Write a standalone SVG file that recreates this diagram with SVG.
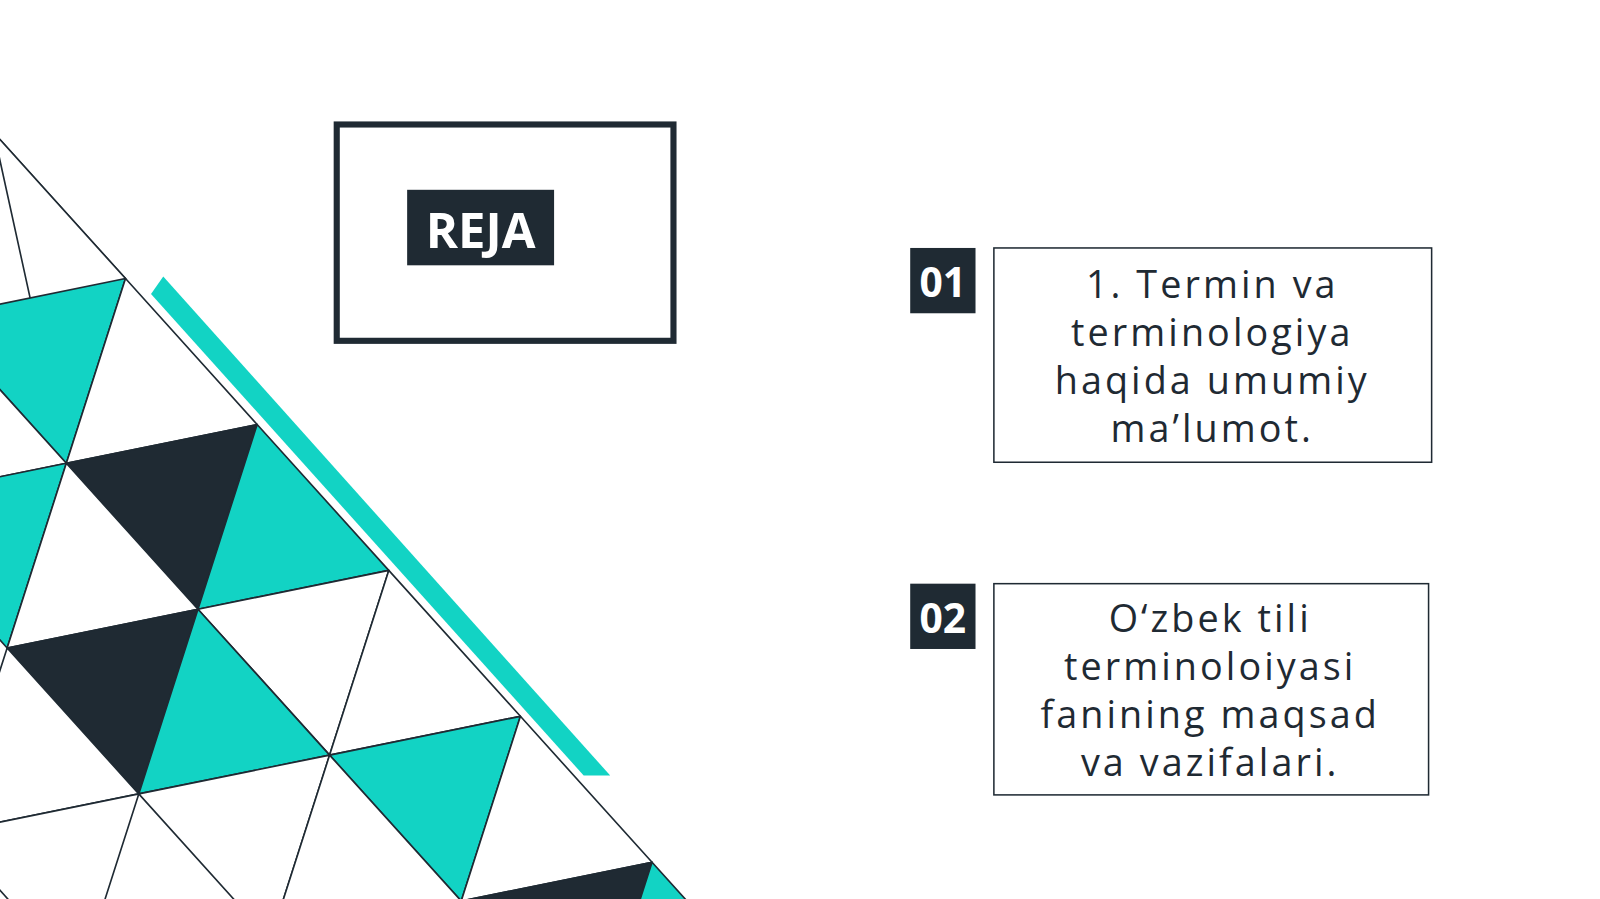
<svg xmlns="http://www.w3.org/2000/svg" width="1600" height="899" viewBox="0 0 1600 899">
<style>
.t{fill:#12d3c4}.d{fill:#1f2a33}.w{fill:#fff}
.tri polygon{stroke:#1f2a33;stroke-width:1.6;stroke-linejoin:round}
.num{font-family:'Open Sans',sans-serif;font-weight:bold;font-size:40px;fill:#fff;text-anchor:middle}
.txt{font-family:'Open Sans',sans-serif;font-size:37px;fill:#1f2a33;text-anchor:middle;letter-spacing:3px}
</style>
<rect width="1600" height="899" fill="#fff"/>
<g transform="scale(1.02041)">
<g id="pattern" class="tri">
<line x1="0" y1="137" x2="123" y2="273" stroke="#1f2a33" stroke-width="1.6"/>
<!-- lattice A=(123,273) u=(129,143) v=(-58,181) -->
<polygon class="w" points="-6,130 123,273 65,454"/>
<polygon class="t" points="123,273 -64,311 65,454"/>
<polygon class="w" points="-64,311 65,454 -122,492"/>
<polygon class="t" points="65,454 -122,492 7,635"/>
<polygon class="w" points="123,273 252,416 65,454"/>
<polygon class="d" points="252,416 65,454 194,597"/>
<polygon class="w" points="65,454 194,597 7,635"/>
<polygon class="d" points="194,597 7,635 136,778"/>
<polygon class="w" points="7,635 136,778 -51,816"/>
<polygon class="w" points="136,778 -51,816 78,959"/>
<polygon class="t" points="252,416 381,559 194,597"/>
<polygon class="w" points="381,559 194,597 323,740"/>
<polygon class="t" points="194,597 323,740 136,778"/>
<polygon class="w" points="323,740 136,778 265,921"/>
<polygon class="w" points="381,559 510,702 323,740"/>
<polygon class="t" points="510,702 323,740 452,883"/>
<polygon class="w" points="323,740 452,883 265,921"/>
<polygon class="w" points="510,702 639,845 452,883"/>
<polygon class="d" points="639,845 452,883 581,1026"/>
<polygon class="t" points="639,845 768,988 581,1026"/>
</g>
<polygon id="stripe" class="t" points="160,271 598,760 572,760 148,288"/>
<g id="title">
<rect x="330" y="122" width="330" height="212" fill="none" stroke="#1f2a33" stroke-width="6"/>
<rect x="399" y="186" width="144" height="74" class="d"/>
<text x="471" y="243" font-family="'Open Sans',sans-serif" font-weight="bold" font-size="48" fill="#fff" text-anchor="middle">REJA</text>
</g>
<g id="item1">
<rect x="892" y="243" width="64" height="64" class="d"/>
<text x="924" y="291" class="num">01</text>
<rect x="974" y="243" width="429" height="210" fill="none" stroke="#1f2a33" stroke-width="1.5"/>
<text class="txt"><tspan x="1188" y="292">1. Termin va</tspan><tspan x="1188" y="339">terminologiya</tspan><tspan x="1188" y="386">haqida umumiy</tspan><tspan x="1188" y="433">ma’lumot.</tspan></text>
</g>
<g id="item2">
<rect x="892" y="572" width="64" height="64" class="d"/>
<text x="924" y="620" class="num">02</text>
<rect x="974" y="572" width="426" height="207" fill="none" stroke="#1f2a33" stroke-width="1.5"/>
<text class="txt"><tspan x="1186" y="619">O‘zbek tili</tspan><tspan x="1186" y="666">terminoloiyasi</tspan><tspan x="1186" y="713">fanining maqsad</tspan><tspan x="1186" y="760">va vazifalari.</tspan></text>
</g>
</g>
</svg>
